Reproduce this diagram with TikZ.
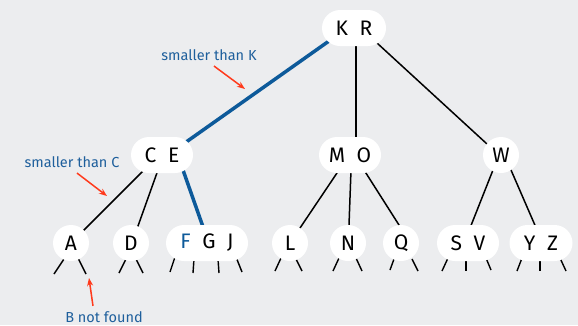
\documentclass[tikz,border=0pt]{standalone}
\usepackage{fontspec}
\setmainfont{Fira Sans}
\usetikzlibrary{arrows.meta,backgrounds}
\definecolor{bg}{HTML}{ECEDEF}
\definecolor{pathblue}{HTML}{0D5A9A}
\definecolor{noteblue}{HTML}{1E5F9C}
\definecolor{notered}{HTML}{FF3A1C}
\tikzset{
  key/.style={fill=white, rounded corners=18pt, minimum height=36pt, inner sep=0pt,
              font=\fontsize{21}{21}\selectfont},
  onekey/.style={fill=white, circle, minimum size=36pt, inner sep=0pt,
              font=\fontsize{21}{21}\selectfont},
  link/.style={line width=1.5pt, black, shorten <=-4pt, shorten >=-4pt},
  hot/.style={line width=3.5pt, pathblue, shorten <=-4pt, shorten >=-4pt},
  stub/.style={line width=1.4pt, black},
  note/.style={text=noteblue, font=\fontsize{14.5}{15}\selectfont},
  pointer/.style={notered, line width=1.5pt, -{Stealth[length=8pt,width=6pt]}},
}
\newcommand{\gap}{\hspace{0.55em}}
\begin{document}
\begin{tikzpicture}[x=1pt,y=-1pt]
  \useasboundingbox (0,0) rectangle (578,325);

  % 2-3 tree nodes
  \node[key, minimum width=64pt] (kr) at (354,28) {K\gap R};
  \node[key, minimum width=62pt] (ce) at (162,155) {C\gap E};
  \node[key, minimum width=62pt] (mo) at (350,155) {M\gap O};
  \node[onekey] (w) at (501,155) {W};
  \node[onekey] (a) at (71,243) {A};
  \node[onekey] (d) at (131,243) {D};
  \node[key, minimum width=82pt] (fgj) at (207,243) {\textcolor{pathblue}{F}\gap G\gap J};
  \node[onekey] (l) at (290,243) {L};
  \node[onekey] (n) at (348,243) {N};
  \node[onekey] (q) at (401,243) {Q};
  \node[key, minimum width=62pt] (sv) at (468,243) {S\gap V};
  \node[key, minimum width=63pt] (yz) at (541,243) {Y\gap Z};

  \begin{scope}[on background layer]
    \fill[bg] (0,0) rectangle (578,325);
    % search path
    \draw[hot] ([shift={(-25,13)}]kr.center) -- ([shift={(27,-15)}]ce.center);
    \draw[hot] ([shift={(21,15)}]ce.center) -- ([shift={(-5,-19)}]fgj.center);
    % remaining links
    \draw[link] ([shift={(2,18)}]kr.center) -- ([shift={(6,-20)}]mo.center);
    \draw[link] ([shift={(23,15)}]kr.center) -- ([shift={(-14,-11)}]w.center);
    \draw[link] ([shift={(-18,15)}]ce.center) -- ([shift={(12,-12)}]a.center);
    \draw[link] ([shift={(-4,15)}]ce.center) -- ([shift={(7,-17)}]d.center);
    \draw[link] ([shift={(-11,15)}]mo.center) -- ([shift={(10,-15)}]l.center);
    \draw[link] ([shift={(1,15)}]mo.center) -- ([shift={(1,-18)}]n.center);
    \draw[link] ([shift={(14,15)}]mo.center) -- ([shift={(-2,-18)}]q.center);
    \draw[link] ([shift={(-8,15)}]w.center) -- ([shift={(4,-20)}]sv.center);
    \draw[link] ([shift={(10,15)}]w.center) -- ([shift={(-7,-20)}]yz.center);
    % null links under the leaves
    \draw[stub] ([shift={(-7,16)}]a.center) -- ([shift={(-17,31)}]a.center);
    \draw[stub] ([shift={(7,15)}]a.center) -- ([shift={(15,31)}]a.center);
    \draw[stub] ([shift={(-5,16)}]d.center) -- ([shift={(-12,30)}]d.center);
    \draw[stub] ([shift={(5,16)}]d.center) -- ([shift={(12,30)}]d.center);
    \draw[stub] ([shift={(-32,14)}]fgj.center) -- ([shift={(-37,29)}]fgj.center);
    \draw[stub] ([shift={(-13,16)}]fgj.center) -- ([shift={(-14,30)}]fgj.center);
    \draw[stub] ([shift={(11,16)}]fgj.center) -- ([shift={(12,30)}]fgj.center);
    \draw[stub] ([shift={(29,14)}]fgj.center) -- ([shift={(35,29)}]fgj.center);
    \draw[stub] ([shift={(-9,15)}]l.center) -- ([shift={(-15,28)}]l.center);
    \draw[stub] ([shift={(6,16)}]l.center) -- ([shift={(12,28)}]l.center);
    \draw[stub] ([shift={(-9,15)}]n.center) -- ([shift={(-15,28)}]n.center);
    \draw[stub] ([shift={(8,15)}]n.center) -- ([shift={(14,28)}]n.center);
    \draw[stub] ([shift={(-7,16)}]q.center) -- ([shift={(-11,27)}]q.center);
    \draw[stub] ([shift={(11,16)}]q.center) -- ([shift={(17,28)}]q.center);
    \draw[stub] ([shift={(-20,15)}]sv.center) -- ([shift={(-26,28)}]sv.center);
    \draw[stub] ([shift={(-2,16)}]sv.center) -- ([shift={(-2,28)}]sv.center);
    \draw[stub] ([shift={(18,15)}]sv.center) -- ([shift={(23,27)}]sv.center);
    \draw[stub] ([shift={(-19,15)}]yz.center) -- ([shift={(-24,28)}]yz.center);
    \draw[stub] ([shift={(-1,16)}]yz.center) -- ([shift={(-1,28)}]yz.center);
    \draw[stub] ([shift={(19,15)}]yz.center) -- ([shift={(25,28)}]yz.center);
  \end{scope}

  % annotations
  \node[note] (nk) at (209,55) {smaller than K};
  \node[note] (nc) at (72,162) {smaller than C};
  \node[note] (nb) at (104,317) {B not found};
  \coordinate (tk) at (245,89);
  \coordinate (tc) at (107,196);
  \coordinate (tb) at (89,278);
  \draw[pointer] ([shift={(5,2)}]nk.south) -- (tk);
  \draw[pointer] ([shift={(5,2)}]nc.south) -- (tc);
  \draw[pointer] ([shift={(-11,-2)}]nb.north) -- (tb);
\end{tikzpicture}
\end{document}
